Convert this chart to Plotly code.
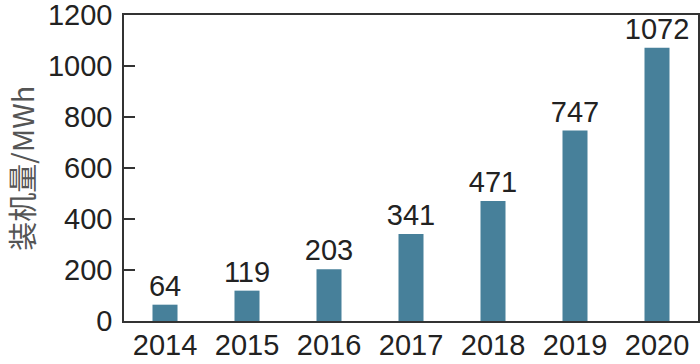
import plotly.graph_objects as go

years = ["2014", "2015", "2016", "2017", "2018", "2019", "2020"]
capacity = [64, 119, 203, 341, 471, 747, 1072]
y_ticks = [0, 200, 400, 600, 800, 1000, 1200]
y_title = "装机量/MWh"

fig = go.Figure(go.Bar(
    x=years, y=capacity,
    marker=dict(color="#47809a", line=dict(width=0)),
    text=[str(v) for v in capacity],
    textposition="outside",
    constraintext="none",
    textfont=dict(size=29, color="#222222", family="Liberation Sans, Arial"),
    cliponaxis=False,
))

fig.update_layout(
    width=700, height=364,
    margin=dict(l=124, r=2, t=15, b=43, autoexpand=False),
    plot_bgcolor="white", paper_bgcolor="white",
    bargap=0.695,
    showlegend=False,
    uniformtext=dict(mode=False),
    font=dict(family="Liberation Sans, Arial", size=29, color="#222222"),
    annotations=[dict(
        text=y_title, textangle=-90, showarrow=False, borderpad=0,
        xref="paper", yref="paper", x=-0.18, y=0.5,
        xanchor="center", yanchor="middle",
        font=dict(size=29, color="#555555", family="Noto Sans CJK SC, Liberation Sans"),
    )],
)
fig.update_xaxes(
    type="category", range=[-0.5, 6.5], automargin=False,
    showline=True, linecolor="#333333", linewidth=1.5, mirror=True,
    ticks="", showgrid=False,
    tickfont=dict(size=29, color="#222222"),
    ticklabelstandoff=-3,
)
fig.update_yaxes(
    range=[0, 1200], tickvals=y_ticks, automargin=False,
    showline=True, linecolor="#333333", linewidth=1.5, mirror=True,
    ticks="inside", ticklen=11, tickwidth=1.5, tickcolor="#333333",
    showgrid=False, zeroline=False,
    tickfont=dict(size=29, color="#222222"),
    ticklabelstandoff=4,
    ticklabeloverflow="allow",
)

fig.write_html("out.html", config={"displayModeBar": False},
               post_script="document.body.style.margin='0';")
